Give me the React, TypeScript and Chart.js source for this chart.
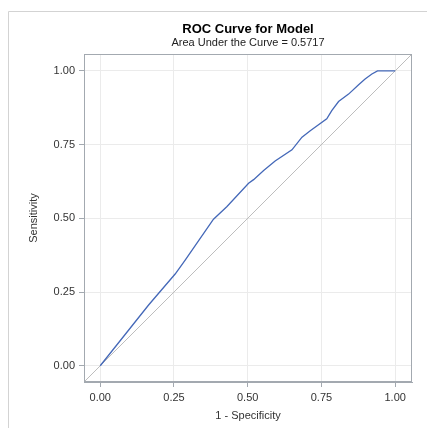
import React, { useEffect, useRef } from "react";
import { Chart, registerables } from "chart.js";

Chart.register(...registerables);

const fpr = [0, 0.164, 0.254, 0.288, 0.384, 0.429, 0.503, 0.52, 0.554, 0.593, 0.65, 0.684, 0.712, 0.768, 0.785, 0.808, 0.842, 0.876, 0.898, 0.921, 0.94, 1.0];
const tpr = [0, 0.206, 0.311, 0.358, 0.497, 0.539, 0.619, 0.631, 0.662, 0.694, 0.732, 0.775, 0.797, 0.837, 0.865, 0.896, 0.921, 0.953, 0.972, 0.989, 1.0, 1.0];
const tickValues = [0, 0.25, 0.5, 0.75, 1];
const axisMin = -0.055;
const axisMax = 1.057;
const titleText = "ROC Curve for Model";
const subtitleText = "Area Under the Curve = 0.5717";
const xTitle = "1 - Specificity";
const yTitle = "Sensitivity";

const FONT = "'Liberation Sans', Arial, sans-serif";

export default function App() {
  const ref = useRef<HTMLCanvasElement | null>(null);
  useEffect(() => {
    if (!ref.current) return;
    const decor = {
      id: "decor",
      afterDraw(chart: any) {
        const ctx = chart.ctx;
        const a = chart.chartArea;
        ctx.save();
        // outer frame
        ctx.strokeStyle = "#d3d3d3";
        ctx.lineWidth = 1;
        ctx.beginPath();
        ctx.moveTo(8.5, 440);
        ctx.lineTo(8.5, 11.5);
        ctx.lineTo(440, 11.5);
        ctx.stroke();
        // plot frame
        ctx.strokeStyle = "#a3a9b0";
        ctx.strokeRect(Math.round(a.left) + 0.5, Math.round(a.top) + 0.5, Math.round(a.right - a.left) - 1, Math.round(a.bottom - a.top) - 1);
        const cx = (a.left + a.right) / 2;
        ctx.fillStyle = "#000";
        ctx.textAlign = "center";
        ctx.textBaseline = "middle";
        ctx.font = `bold 13px ${FONT}`;
        ctx.fillText(titleText, cx, 29);
        ctx.font = `11px ${FONT}`;
        ctx.fillStyle = "#222";
        ctx.fillText(subtitleText, cx, 43);
        ctx.fillStyle = "#333";
        ctx.font = `11px ${FONT}`;
        ctx.fillText(xTitle, cx, 416);
        ctx.translate(34, (a.top + a.bottom) / 2);
        ctx.rotate(-Math.PI / 2);
        ctx.fillText(yTitle, 0, 0);
        ctx.restore();
      },
    };
    const axisCommon = (isY: boolean) => ({
      type: "linear" as const,
      min: axisMin,
      max: axisMax,
      afterBuildTicks: (scale: any) => {
        scale.ticks = tickValues.map((v) => ({ value: v }));
      },
      afterFit: (scale: any) => {
        if (isY) scale.width = 84;
        else scale.height = 46;
      },
      ticks: {
        callback: (v: any) => Number(v).toFixed(2),
        color: "#333",
        font: { family: FONT, size: 11 },
        padding: 4,
        autoSkip: false,
        maxRotation: 0,
      },
      grid: {
        color: "#ebebeb",
        tickColor: "#a3a9b0",
        tickLength: 5,
        drawTicks: true,
      },
      border: { display: true, color: "#a3a9b0" },
    });
    const chart = new Chart(ref.current, {
      type: "line",
      data: {
        datasets: [
          {
            data: fpr.map((x, i) => ({ x, y: tpr[i] })),
            borderColor: "#4468b8",
            borderWidth: 1.3,
            pointRadius: 0,
            tension: 0,
            fill: false,
          },
          {
            data: [
              { x: axisMin, y: axisMin },
              { x: axisMax, y: axisMax },
            ],
            borderColor: "#bdbdbd",
            borderWidth: 1,
            pointRadius: 0,
            fill: false,
          },
        ],
      },
      options: {
        responsive: false,
        animation: false,
        layout: { padding: { left: 0, top: 54, right: 15, bottom: 0 } },
        plugins: { legend: { display: false }, tooltip: { enabled: false }, title: { display: false } },
        scales: {
          x: axisCommon(false) as any,
          y: axisCommon(true) as any,
        },
      },
      plugins: [decor],
    });
    return () => chart.destroy();
  }, []);
  return (
    <div style={{ position: "absolute", left: 0, top: 0, width: 427, height: 428, background: "#fff" }}>
      <canvas ref={ref} width={427} height={428} style={{ width: 427, height: 428 }} />
    </div>
  );
}
